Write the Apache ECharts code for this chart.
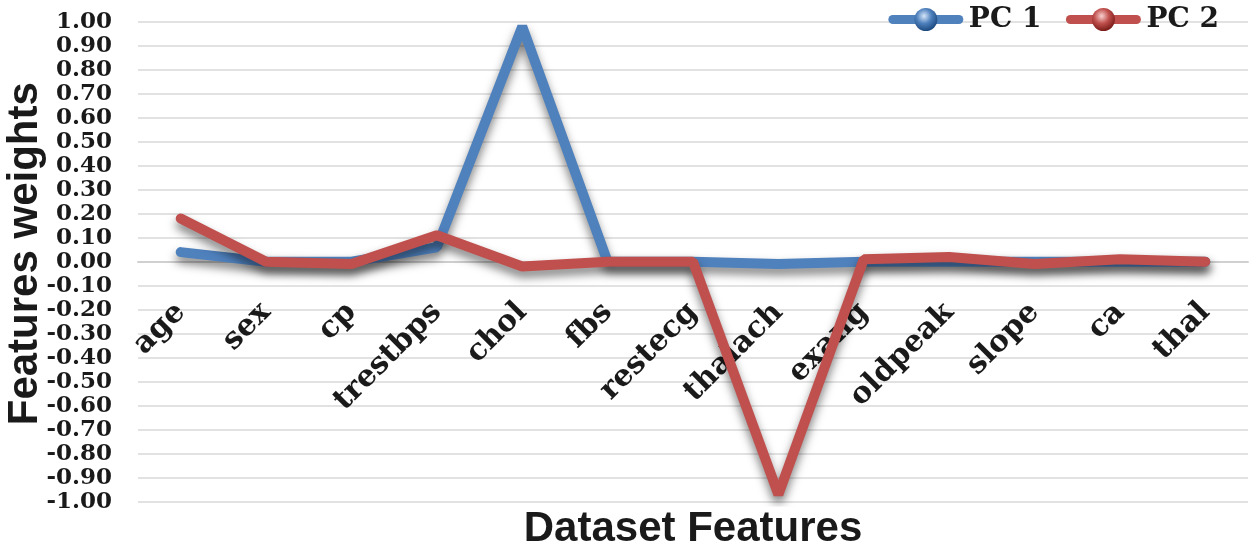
<!DOCTYPE html>
<html>
<head>
<meta charset="utf-8">
<script src="https://cdn.jsdelivr.net/npm/echarts@6/dist/echarts.min.js"></script>
<style>
html,body{margin:0;padding:0;background:#fff;}
#chart{width:1250px;height:548px;}
</style>
</head>
<body>
<div id="chart"></div>
<script>
// 数据
var features = ['age','sex','cp','trestbps','chol','fbs','restecg','thalach','exang','oldpeak','slope','ca','thal'];
var pc1 = [0.04, 0.00, 0.00, 0.06, 0.98, 0.00, 0.00, -0.01, 0.00, 0.00, 0.00, 0.00, 0.00];
var pc2 = [0.18, 0.00, -0.01, 0.11, -0.02, 0.00, 0.00, -0.97, 0.01, 0.02, -0.01, 0.01, 0.00];
var seriesNames = ['PC 1', 'PC 2'];

var serif = '"DejaVu Serif", "Liberation Serif", serif';
var sans = '"Liberation Sans", Arial, sans-serif';

/**
 * 图例图标: 粗线 + 球
 */
var legendIcon = function(line, light, base, dark){
    var svg = '<svg xmlns="http://www.w3.org/2000/svg" width="76" height="29" viewBox="0 0 76 29">' +
        '<defs><radialGradient id="g" cx="0.42" cy="0.35" r="0.65">' +
        '<stop offset="0" stop-color="' + light + '"/>' +
        '<stop offset="0.5" stop-color="' + base + '"/>' +
        '<stop offset="1" stop-color="' + dark + '"/>' +
        '</radialGradient></defs>' +
        '<line x1="5" y1="14.5" x2="71" y2="14.5" stroke="' + line + '" stroke-width="9" stroke-linecap="round"/>' +
        '<circle cx="38" cy="14.5" r="11.5" fill="url(#g)"/>' +
        '</svg>';
    return 'image://data:image/svg+xml;charset=utf-8,' + encodeURIComponent(svg);
};

var lineSeries = function(name, data, color){
    return {
        name: name,
        type: 'line',
        data: data,
        symbol: 'none',
        itemStyle: {color: color},
        lineStyle: {
            color: color,
            width: 10,
            cap: 'round',
            shadowColor: 'rgba(0,0,0,0.5)',
            shadowBlur: 10,
            shadowOffsetY: 6
        },
        emphasis: {disabled: true}
    };
};

var chart = echarts.init(document.getElementById('chart'));
chart.setOption({
    animation: false,
    backgroundColor: '#fff',
    grid: {left: 138, right: 2, top: 21.7, bottom: 46.3, containLabel: false, outerBoundsMode: 'none'},
    legend: {
        data: [
            {name: seriesNames[0], icon: legendIcon('#4F81BD', '#d6e6fa', '#4F81BD', '#1d4a80')},
            {name: seriesNames[1], icon: legendIcon('#C0504D', '#f8d0ce', '#C0504D', '#7a1c19')}
        ],
        right: 26,
        top: 0,
        itemWidth: 76,
        itemHeight: 29,
        itemGap: 24,
        textStyle: {fontFamily: serif, fontWeight: 'bold', fontSize: 28, color: '#1a1a1a'}
    },
    xAxis: {
        type: 'category',
        data: features,
        boundaryGap: true,
        // 轴放在 0 的位置
        offset: -240,
        name: 'Dataset Features',
        nameLocation: 'middle',
        nameGap: 247,
        nameMoveOverlap: false,
        nameTextStyle: {fontFamily: sans, fontWeight: 'bold', fontSize: 42, color: '#1a1a1a'},
        axisLine: {onZero: false, lineStyle: {color: '#d0d0d0', width: 2}},
        axisTick: {show: false},
        axisLabel: {
            rotate: 45,
            margin: 46,
            interval: 0,
            fontFamily: serif,
            fontWeight: 'bold',
            fontSize: 30,
            color: '#1a1a1a'
        },
        splitLine: {show: false}
    },
    yAxis: {
        type: 'value',
        min: -1,
        max: 1,
        interval: 0.1,
        name: 'Features weights',
        nameLocation: 'middle',
        nameGap: 92,
        nameMoveOverlap: false,
        nameTextStyle: {fontFamily: sans, fontWeight: 'bold', fontSize: 42, color: '#1a1a1a', padding: [0, 0, 0, 16]},
        axisLine: {show: false},
        axisTick: {show: false},
        axisLabel: {
            margin: 26,
            fontFamily: serif,
            fontWeight: 'bold',
            fontSize: 23,
            color: '#1a1a1a',
            formatter: function(v){ return v.toFixed(2); }
        },
        splitLine: {lineStyle: {color: '#d9d9d9', width: 1.5}}
    },
    series: [
        lineSeries(seriesNames[0], pc1, '#4F81BD'),
        lineSeries(seriesNames[1], pc2, '#C0504D')
    ]
});
</script>
</body>
</html>
